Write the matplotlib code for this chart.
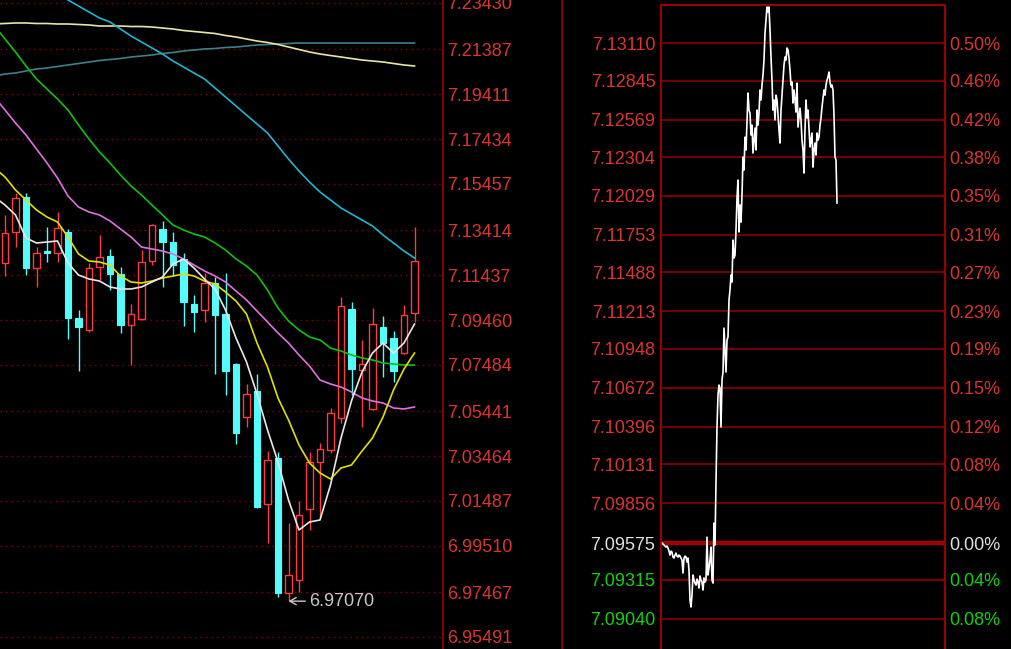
import matplotlib
matplotlib.use('Agg')  # non-interactive backend
import matplotlib.pyplot as plt
import numpy as np
from matplotlib.patches import Rectangle
from matplotlib.lines import Line2D

plt.rcParams['font.family'] = ['Liberation Sans', 'DejaVu Sans']

# ---- daily candles (40 sessions) ----
opens = [7.11972, 7.13339, 7.14881, 7.11752, 7.12501, 7.12413, 7.13339, 7.09549, 7.09020, 7.11796,
         7.12281, 7.11488, 7.09240, 7.09505, 7.12061, 7.13471, 7.12898, 7.12149, 7.10166, 7.09901,
         7.11091, 7.09725, 7.07522, 7.05186, 7.06332, 7.01352, 7.03379, 6.97430, 6.98003, 7.01132,
         7.03203, 7.03732, 7.05142, 7.09945, 7.07257, 7.05539, 7.09152, 7.08667, 7.08006, 7.09769]
highs = [7.14088, 7.15057, 7.15057, 7.12678, 7.13559, 7.14220, 7.13471, 7.09901, 7.11972, 7.13206,
         7.12589, 7.11796, 7.10166, 7.12545, 7.13691, 7.13823, 7.13339, 7.12413, 7.10562, 7.11532,
         7.11356, 7.11532, 7.07566, 7.06640, 7.07081, 7.03688, 7.03644, 7.00515, 7.01484, 7.03644,
         7.04040, 7.05583, 7.10474, 7.10254, 7.08579, 7.09989, 7.09637, 7.08976, 7.10122, 7.13559]
lows = [7.11400, 7.12678, 7.11444, 7.10915, 7.12017, 7.12017, 7.08623, 7.07213, 7.08932, 7.11223,
        7.10783, 7.08888, 7.07478, 7.09461, 7.11884, 7.10915, 7.11400, 7.09196, 7.08932, 7.09372,
        7.07081, 7.06156, 7.03996, 7.04745, 7.01176, 6.99633, 6.97254, 6.97070, 6.97474, 7.00206,
        7.00735, 7.03600, 7.04922, 7.06156, 7.04745, 7.05494, 7.06949, 7.06728, 7.07962, 7.09372]
closes = [7.13295, 7.14837, 7.11752, 7.12413, 7.12413, 7.13515, 7.09549, 7.09152, 7.11752, 7.12237,
          7.11488, 7.09240, 7.09725, 7.12017, 7.13647, 7.12898, 7.11884, 7.10254, 7.09813, 7.11091,
          7.09681, 7.07213, 7.04481, 7.06200, 7.01220, 7.03291, 6.97430, 6.98223, 7.00867, 7.03203,
          7.03776, 7.05362, 7.10078, 7.07301, 7.07522, 7.09284, 7.08447, 7.07213, 7.09681, 7.12061]

# moving averages, first value belongs to the session before the window
ma5 = [7.14881, 7.14528, 7.14088, 7.13074, 7.12854, 7.12898, 7.12942, 7.11972, 7.11443, 7.11267,
       7.11179, 7.10915, 7.10827, 7.10827, 7.10915, 7.11135, 7.11355, 7.11928, 7.12149, 7.11752,
       7.11267, 7.10827, 7.09901, 7.08667, 7.07610, 7.06199, 7.04613, 7.03203, 7.01528, 7.00206,
       7.00559, 7.00647, 7.02189, 7.04260, 7.05891, 7.07169, 7.08006, 7.08447, 7.08006, 7.08447,
       7.09284]
ma10 = [7.16159, 7.15762, 7.15189, 7.14749, 7.14308, 7.13999, 7.13779, 7.13118, 7.12369, 7.12060,
        7.12016, 7.11884, 7.11399, 7.11135, 7.11091, 7.11179, 7.11311, 7.11399, 7.11488, 7.11399,
        7.11179, 7.11047, 7.10694, 7.10298, 7.09725, 7.08447, 7.07389, 7.06023, 7.05054, 7.03952,
        7.03159, 7.02718, 7.02454, 7.02938, 7.03071, 7.03688, 7.04260, 7.05186, 7.06376, 7.07301,
        7.08006]
ma20 = [7.19288, 7.18715, 7.18142, 7.17613, 7.16996, 7.16379, 7.15718, 7.14925, 7.14440, 7.14220,
        7.14088, 7.13823, 7.13471, 7.13118, 7.12677, 7.12589, 7.12501, 7.12369, 7.12149, 7.11884,
        7.11620, 7.11399, 7.11135, 7.10738, 7.10342, 7.09857, 7.09372, 7.08888, 7.08447, 7.07918,
        7.07433, 7.06816, 7.06640, 7.06508, 7.06288, 7.06023, 7.05891, 7.05803, 7.05583, 7.05538,
        7.05627]
ma60 = [7.22416, 7.21844, 7.21271, 7.20654, 7.20081, 7.19640, 7.19200, 7.18715, 7.18054, 7.17437,
        7.16864, 7.16379, 7.15850, 7.15366, 7.14969, 7.14528, 7.14088, 7.13647, 7.13427, 7.13250,
        7.13118, 7.12854, 7.12545, 7.12149, 7.11840, 7.11443, 7.10783, 7.09989, 7.09416, 7.09020,
        7.08711, 7.08579, 7.08227, 7.08094, 7.07918, 7.07786, 7.07698, 7.07565, 7.07521, 7.07477,
        7.07477]
nan = np.nan
ma120 = [nan, nan, nan, nan, nan, nan, 7.23827, 7.23562, 7.23298, 7.23033,
         7.22769, 7.22593, 7.22284, 7.21976, 7.21711, 7.21447, 7.21183, 7.20874, 7.20610, 7.20345,
         7.20081, 7.19684, 7.19288, 7.18891, 7.18494, 7.18098, 7.17701, 7.17128, 7.16555, 7.16027,
         7.15542, 7.15101, 7.14749, 7.14396, 7.14132, 7.13867, 7.13603, 7.13206, 7.12854, 7.12501,
         7.12193]
ma250 = [7.22505, 7.22527, 7.22549, 7.22549, 7.22527, 7.22527, 7.22505, 7.22505, 7.22483, 7.22460,
         7.22416, 7.22416, 7.22416, 7.22394, 7.22394, 7.22372, 7.22328, 7.22284, 7.22218, 7.22174,
         7.22130, 7.22086, 7.21998, 7.21932, 7.21844, 7.21755, 7.21689, 7.21601, 7.21491, 7.21381,
         7.21271, 7.21183, 7.21116, 7.21050, 7.20984, 7.20918, 7.20874, 7.20830, 7.20764, 7.20698,
         7.20654]
ma_long = [7.20213, 7.20301, 7.20345, 7.20433, 7.20521, 7.20566, 7.20632, 7.20698, 7.20764, 7.20830,
           7.20896, 7.20940, 7.20984, 7.21050, 7.21094, 7.21138, 7.21205, 7.21249, 7.21315, 7.21359,
           7.21403, 7.21425, 7.21469, 7.21491, 7.21535, 7.21579, 7.21601, 7.21623, 7.21645, 7.21667,
           7.21667, 7.21667, 7.21667, 7.21667, 7.21667, 7.21667, 7.21667, 7.21667, 7.21667, 7.21667,
           7.21667]

day_ticks = [7.23430, 7.21387, 7.19411, 7.17434, 7.15457, 7.13414, 7.11437, 7.09460,
             7.07484, 7.05441, 7.03464, 7.01487, 6.99510, 6.97467, 6.95491]
day_ylim = (6.94962, 7.23562)

# ---- intraday ticks ----
prev_close = 7.09575
intraday = [7.09575, 7.09568, 7.09561, 7.09554, 7.09547, 7.09554, 7.09540, 7.09518, 7.09490, 7.09518,
            7.09511, 7.09476, 7.09469, 7.09490, 7.09504, 7.09483, 7.09476, 7.09490, 7.09483, 7.09469,
            7.09455, 7.09363, 7.09469, 7.09483, 7.09476, 7.09441, 7.09469, 7.09384, 7.09172, 7.09123,
            7.09207, 7.09349, 7.09313, 7.09292, 7.09278, 7.09320, 7.09299, 7.09257, 7.09342, 7.09313,
            7.09299, 7.09243, 7.09328, 7.09299, 7.09313, 7.09617, 7.09349, 7.09398, 7.09455, 7.09547,
            7.09313, 7.09292, 7.09716, 7.09561, 7.10006, 7.10395, 7.10621, 7.10692, 7.10671, 7.10395,
            7.10727, 7.10784, 7.11095, 7.10940, 7.10784, 7.11010, 7.11031, 7.11293, 7.11364, 7.11470,
            7.11420, 7.11717, 7.11590, 7.11611, 7.11788, 7.12014, 7.12141, 7.11774, 7.11965, 7.11844,
            7.12035, 7.12304, 7.12212, 7.12445, 7.12354, 7.12566, 7.12757, 7.12636, 7.12615, 7.12460,
            7.12530, 7.12332, 7.12424, 7.12509, 7.12354, 7.12636, 7.12530, 7.12615, 7.12778, 7.12707,
            7.12813, 7.12884, 7.12990, 7.13181, 7.13273, 7.13365, 7.13329, 7.13365, 7.13202, 7.13011,
            7.12848, 7.12636, 7.12707, 7.12566, 7.12742, 7.12707, 7.12601, 7.12495, 7.12403, 7.12636,
            7.12742, 7.12848, 7.12954, 7.13011, 7.12990, 7.13075, 7.13061, 7.13004, 7.12919, 7.12813,
            7.12834, 7.12686, 7.12778, 7.12707, 7.12622, 7.12827, 7.12516, 7.12580, 7.12650, 7.12566,
            7.12424, 7.12354, 7.12191, 7.12495, 7.12707, 7.12580, 7.12636, 7.12509, 7.12375, 7.12424,
            7.12474, 7.12233, 7.12354, 7.12403, 7.12318, 7.12474, 7.12424, 7.12445, 7.12530, 7.12580,
            7.12658, 7.12721, 7.12778, 7.12742, 7.12813, 7.12848, 7.12870, 7.12905, 7.12834, 7.12799,
            7.12813, 7.12778, 7.12601, 7.12304, 7.12283, 7.11979]
session_len = 283
intra_ticks = [7.13110, 7.12845, 7.12569, 7.12304, 7.12029, 7.11753, 7.11488, 7.11213,
               7.10948, 7.10672, 7.10396, 7.10131, 7.09856, 7.09575, 7.09315, 7.09040]
pct_labels = ['0.50%', '0.46%', '0.42%', '0.38%', '0.35%', '0.31%', '0.27%', '0.23%',
              '0.19%', '0.15%', '0.12%', '0.08%', '0.04%', '0.00%', '0.04%', '0.08%']
intra_ylim = (7.08826, 7.13379)

RED_TXT = '#d8362f'
GRID_RED = '#8a0000'
FRAME_RED = '#a00000'
UP = '#ff3c3c'
DOWN = '#54fcfc'
W, H = 1012, 649

fig = plt.figure(figsize=(W / 100, H / 100), dpi=100, facecolor='black')

# ---------------- left: daily candles ----------------
ax = fig.add_axes([0, 0, 443 / W, 1])
ax.set_facecolor('black')
ax.set_xlim(-5 / 10.5, 438 / 10.5)
ax.set_ylim(*day_ylim)

for v in day_ticks:
    ax.axhline(v, color=GRID_RED, lw=1.0, ls=(0, (1, 3)), zorder=1)

bw = 0.66
for i, (o, h, l, c) in enumerate(zip(opens, highs, lows, closes)):
    if c >= o:
        ax.vlines(i, l, h, color=UP, lw=1.0, zorder=2)
        ax.add_patch(Rectangle((i - bw / 2, o), bw, c - o, facecolor='black',
                               edgecolor=UP, lw=1.0, zorder=2.5))
    else:
        ax.vlines(i, l, h, color=DOWN, lw=1.0, zorder=2)
        ax.add_patch(Rectangle((i - bw / 2, c), bw, o - c, facecolor=DOWN,
                               edgecolor=DOWN, lw=0.8, zorder=2.5))

xs = np.arange(-1, len(opens))
ax.plot(xs, ma_long, color='#3f8088', lw=1.2, zorder=3)
ax.plot(xs, ma250, color='#e6e6a8', lw=1.2, zorder=3)
ax.plot(xs, ma120, color='#22b4d2', lw=1.2, zorder=3)
ax.plot(xs, ma60, color='#10c010', lw=1.2, zorder=3)
ax.plot(xs, ma20, color='#e070e0', lw=1.2, zorder=3)
ax.plot(xs, ma10, color='#e0e000', lw=1.2, zorder=3)
ax.plot(xs, ma5, color='#e8e8e8', lw=1.2, zorder=3)

low_i = int(np.argmin(lows))
ax.annotate(f'{lows[low_i]:.5f}', xy=(low_i, lows[low_i]), xytext=(21, 0),
            textcoords='offset pixels', color='#c8c8c8', fontsize=13,
            va='center', ha='left', annotation_clip=False, zorder=5,
            arrowprops=dict(arrowstyle='->,head_length=0.35,head_width=0.2',
                            color='#c8c8c8', lw=1.0, shrinkA=1, shrinkB=0))

ax.set_xticks([])
ax.yaxis.tick_right()
ax.set_yticks(day_ticks)
ax.set_yticklabels([f'{v:.5f}' for v in day_ticks])
ax.tick_params(axis='y', length=0, pad=3, labelsize=13, labelcolor=RED_TXT)
for s in ['left', 'top', 'bottom']:
    ax.spines[s].set_visible(False)
ax.spines['right'].set_color(FRAME_RED)
ax.spines['right'].set_linewidth(1.2)

# separator between the two panels
fig.add_artist(Line2D([562 / W, 562 / W], [0, 1], color=FRAME_RED, lw=1.2,
                      transform=fig.transFigure))

# ---------------- right: intraday line ----------------
ax2 = fig.add_axes([661 / W, 0, (945 - 661) / W, (H - 5) / H])
ax2.set_facecolor('black')
ax2.set_xlim(-1, session_len)
ax2.set_ylim(*intra_ylim)

for v in intra_ticks:
    if v == prev_close:
        ax2.axhline(v, color='#a00000', lw=3.2, zorder=1)
    else:
        ax2.axhline(v, color=GRID_RED, lw=1.2, zorder=1)

ax2.plot(np.arange(len(intraday)), intraday, color='white', lw=1.2, zorder=3)

ax2.set_xticks([])
ax2.set_yticks(intra_ticks)
ax2.set_yticklabels([f'{v:.5f}' for v in intra_ticks])
ax2.tick_params(axis='y', length=0, pad=4, labelsize=13)

ax3 = ax2.twinx()
ax3.set_ylim(*intra_ylim)
ax3.set_yticks(intra_ticks)
ax3.set_yticklabels(pct_labels)
ax3.tick_params(axis='y', length=0, pad=3, labelsize=13)


def tick_color(v):
    if v > prev_close:
        return RED_TXT
    if v < prev_close:
        return '#12d012'
    return '#e0e0e0'


for lab, v in zip(ax2.get_yticklabels(), intra_ticks):
    lab.set_color(tick_color(v))
for lab, v in zip(ax3.get_yticklabels(), intra_ticks):
    lab.set_color(tick_color(v))

for a in (ax2, ax3):
    a.spines['bottom'].set_visible(False)
    for s in ['left', 'right', 'top']:
        a.spines[s].set_color(FRAME_RED)
        a.spines[s].set_linewidth(1.2)

fig.savefig('out.png', dpi=100, facecolor='black')
plt.close(fig)
